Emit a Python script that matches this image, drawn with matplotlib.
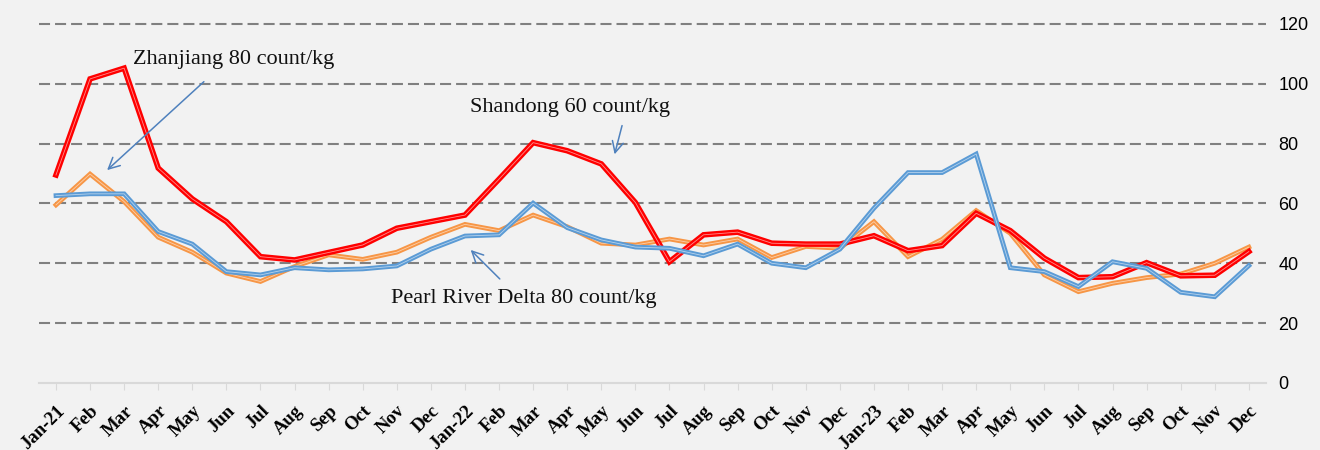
import matplotlib
matplotlib.use("Agg")
import matplotlib.pyplot as plt

months = ["Jan-21", "Feb", "Mar", "Apr", "May", "Jun", "Jul", "Aug", "Sep", "Oct", "Nov", "Dec",
          "Jan-22", "Feb", "Mar", "Apr", "May", "Jun", "Jul", "Aug", "Sep", "Oct", "Nov", "Dec",
          "Jan-23", "Feb", "Mar", "Apr", "May", "Jun", "Jul", "Aug", "Sep", "Oct", "Nov", "Dec"]

# Shandong 60 count/kg
shandong = [69.5, 101.6, 105.2, 71.8, 61.5, 53.9, 42.2, 41.1, 43.6, 46.1, 51.7, 53.9,
            56.1, 68.1, 80.3, 77.6, 73.2, 60.3, 40.5, 49.5, 50.4, 46.7, 46.4, 46.4,
            49.2, 44.2, 45.9, 56.7, 50.9, 41.7, 35.2, 35.5, 40.2, 35.8, 36.0, 43.9]
# Zhanjiang 80 count/kg
zhanjiang = [59.5, 69.8, 60.6, 48.7, 43.7, 36.7, 33.9, 38.9, 42.8, 41.3, 43.7, 48.7,
             53.0, 50.9, 56.1, 52.2, 46.7, 46.1, 48.1, 46.1, 48.1, 41.9, 45.6, 45.0,
             53.9, 42.2, 48.0, 57.6, 50.0, 36.1, 30.5, 33.3, 35.2, 36.4, 40.0, 45.4]
# Pearl River Delta 80 count/kg
prd = [62.6, 63.2, 63.2, 50.6, 46.4, 37.2, 36.1, 38.5, 37.8, 38.1, 39.1, 44.7,
       49.1, 49.5, 60.1, 51.9, 47.8, 45.4, 45.0, 42.5, 46.4, 40.0, 38.5, 44.7,
       58.4, 70.3, 70.3, 76.5, 38.5, 37.2, 32.2, 40.5, 38.3, 30.3, 28.8, 39.2]

yticks = [0, 20, 40, 60, 80, 100, 120]

BG = "#f2f2f2"
RED = "#ff0000"
ORANGE = "#f79646"
BLUE = "#5b9bd5"
ARROW = "#4f81bd"

fig = plt.figure(figsize=(13.2, 4.5), dpi=100, facecolor=BG)
ax = fig.add_axes([0.0295, 0.149, 0.9295, 0.798], facecolor=BG)

x = list(range(len(months)))


def double_line(vals, color, lw, z):
    # Excel-style compound line: coloured band with a faint pale centre stripe
    ax.plot(x, vals, color=color, lw=lw, solid_joinstyle="miter", zorder=z)
    ax.plot(x, vals, color="white", lw=0.6, alpha=0.55, zorder=z + 0.1)


double_line(zhanjiang, ORANGE, 3.4, 3)
double_line(shandong, RED, 4.0, 4)
double_line(prd, BLUE, 3.4, 5)

ax.set_xlim(-0.5, len(months) - 0.5)
ax.set_ylim(0, 120)
ax.set_yticks(yticks)
ax.yaxis.tick_right()
ax.tick_params(axis="y", length=0, pad=9, labelsize=13)
for lab in ax.get_yticklabels():
    lab.set_family("Liberation Sans")

ax.set_xticks(x)
ax.set_xticklabels(months, rotation=45, ha="right", va="top", rotation_mode="anchor",
                   fontsize=13.5, fontweight="bold", family="Liberation Serif")
ax.tick_params(axis="x", length=5, color="#d9d9d9", pad=9)

for y in yticks[1:]:
    ax.axhline(y, color="#808080", lw=1.5, dashes=(5.3, 2.4), zorder=1, clip_on=False)

for s in ["top", "left", "right"]:
    ax.spines[s].set_visible(False)
ax.spines["bottom"].set_color("#d9d9d9")
ax.spines["bottom"].set_linewidth(1.5)

tfont = dict(family="Liberation Serif", fontsize=16, color="#111111", va="center", ha="left")
ax.text(2.26, 108, "Zhanjiang 80 count/kg", **tfont)
ax.text(12.14, 92.2, "Shandong 60 count/kg", **tfont)
ax.text(9.83, 28.1, "Pearl River Delta 80 count/kg", **tfont)

arrow = dict(arrowstyle="->", color=ARROW, lw=1.1, mutation_scale=20)
ax.annotate("", xy=(1.44, 70.5), xytext=(4.40, 101.3), arrowprops=arrow, zorder=6)
ax.annotate("", xy=(16.37, 75.5), xytext=(16.63, 86.9), arrowprops=arrow, zorder=6)
ax.annotate("", xy=(12.11, 45.1), xytext=(13.08, 34.1), arrowprops=arrow, zorder=6)

fig.savefig("out.png", dpi=100, facecolor=BG)
